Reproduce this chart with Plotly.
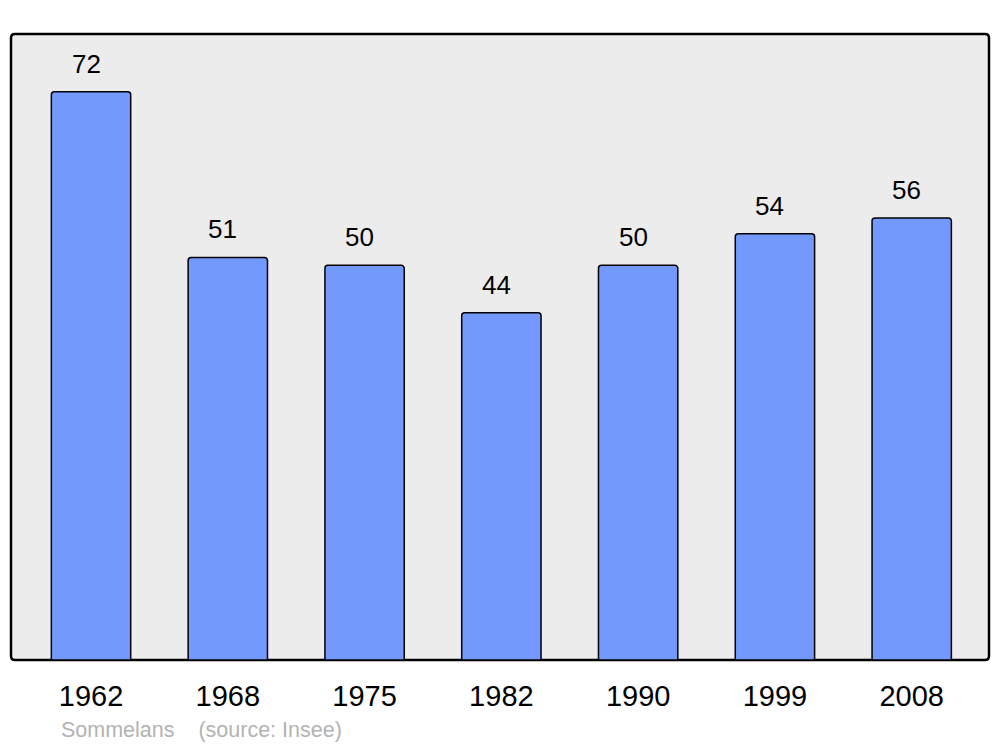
import plotly.graph_objects as go

years = ["1962", "1968", "1975", "1982", "1990", "1999", "2008"]
population = [72, 51, 50, 44, 50, 54, 56]
source_label = "Sommelans    (source: Insee)"

fig = go.Figure()
fig.add_trace(go.Bar(
    x=list(range(len(years))), y=population,
    width=0.58,
    marker=dict(color="#7399FF", line=dict(color="#000000", width=1.5), cornerradius=3),
    hoverinfo="skip",
))

for i, v in enumerate(population):
    fig.add_annotation(x=i, y=v, text=str(v), showarrow=False, xref="x", yref="y",
                       yanchor="middle", yshift=28, xshift=-5,
                       font=dict(family="Liberation Sans, Arial, sans-serif", size=26, color="#000"))

# rounded plot frame (paper coordinates)
rx, ry = 4 / 978, 4 / 626
frame = (f"M {rx},0 L {1-rx},0 Q 1,0 1,{ry} L 1,{1-ry} Q 1,1 {1-rx},1 "
         f"L {rx},1 Q 0,1 0,{1-ry} L 0,{ry} Q 0,0 {rx},0 Z")
fig.add_shape(type="path", path=frame, xref="paper", yref="paper",
              line=dict(color="#000", width=2.5), fillcolor="#ECECEC", layer="below")

fig.add_annotation(xref="paper", yref="paper", x=(59 - 11) / 978, y=-(730 - 660) / 626,
                   xanchor="left", yanchor="middle", showarrow=False, text=source_label,
                   font=dict(family="Liberation Sans, Arial, sans-serif", size=21.5, color="#B3B3B3"))

fig.update_layout(
    width=1000, height=747,
    margin=dict(l=11, r=11, t=34, b=87),
    paper_bgcolor="#FFFFFF", plot_bgcolor="rgba(0,0,0,0)",
    showlegend=False,
    font=dict(family="Liberation Sans, Arial, sans-serif"),
)
fig.update_xaxes(range=[-0.585, 6.565], tickmode="array", tickvals=list(range(len(years))),
                 ticktext=years, showgrid=False, zeroline=False, showline=False,
                 ticks="outside", ticklen=10, tickcolor="rgba(0,0,0,0)",
                 tickfont=dict(size=29, color="#000"))
fig.update_yaxes(range=[0, 79.3], showgrid=False, zeroline=False, showline=False,
                 showticklabels=False)

fig.write_html("out.html", config={"displayModeBar": False},
               post_script="document.body.style.margin='0';")
